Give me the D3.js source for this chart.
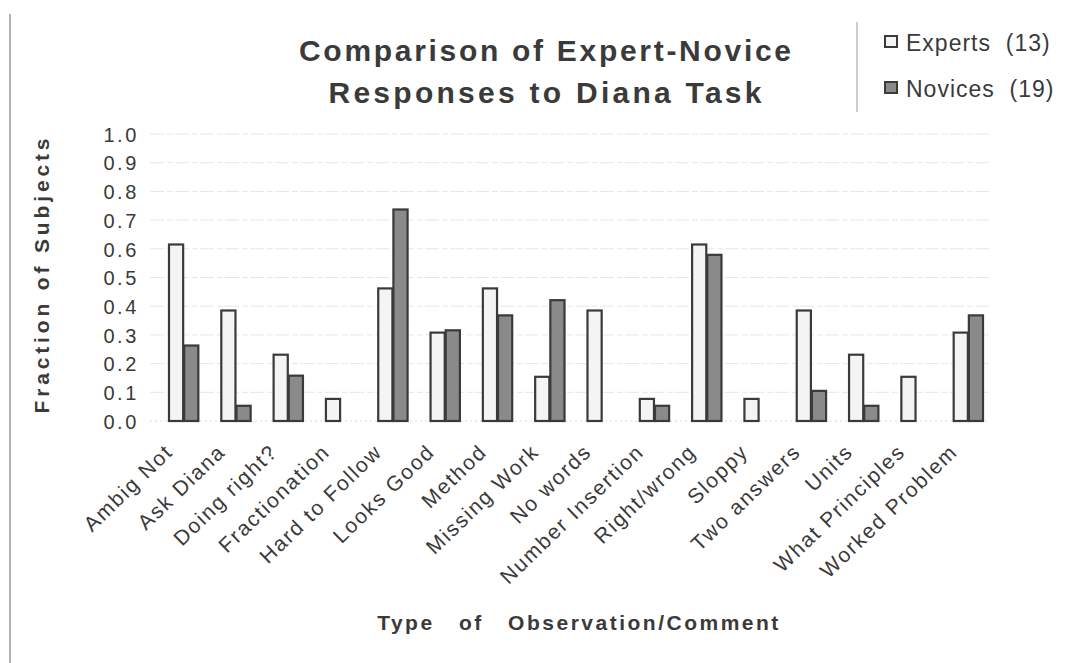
<!DOCTYPE html>
<html>
<head>
<meta charset="utf-8">
<script src="https://cdn.jsdelivr.net/npm/d3@7"></script>
<style>
  html, body { margin: 0; padding: 0; background: #fff; }
  svg { display: block; font-family: "Liberation Sans", Arial, Helvetica, sans-serif; }
</style>
</head>
<body>
<svg id="chart" width="1071" height="663"></svg>
<script>
const categories = ["Ambig Not", "Ask Diana", "Doing right?", "Fractionation", "Hard to Follow",
  "Looks Good", "Method", "Missing Work", "No words", "Number Insertion", "Right/wrong",
  "Sloppy", "Two answers", "Units", "What Principles", "Worked Problem"];
const experts = [0.615, 0.385, 0.231, 0.077, 0.462, 0.308, 0.462, 0.154, 0.385, 0.077, 0.615, 0.077, 0.385, 0.231, 0.154, 0.308];
const novices = [0.263, 0.053, 0.158, 0, 0.737, 0.316, 0.368, 0.421, 0, 0.053, 0.579, 0, 0.105, 0.053, 0, 0.368];
const seriesNames = ["Experts  (13)", "Novices  (19)"];
const yTicks = [0, 0.1, 0.2, 0.3, 0.4, 0.5, 0.6, 0.7, 0.8, 0.9, 1.0];
const titleLines = ["Comparison of Expert-Novice", "Responses to Diana Task"];
const yTitle = "Fraction of Subjects";
const xTitle = "Type of Observation/Comment";

const svg = d3.select("#chart");
const textColor = "#3a3a3a";
const fills = ["#f4f4f4", "#8a8a8a"];
const stroke = "#3a3a3a";

const x = d3.scaleBand().domain(categories).range([157, 994]).paddingInner(0.42).paddingOuter(0.21);
const xs = d3.scaleBand().domain([0, 1]).range([0, x.bandwidth()]);
const y = d3.scaleLinear().domain([0, 1]).range([421, 134]);

// left frame line
svg.append("line").attr("x1", 10).attr("x2", 10).attr("y1", 14).attr("y2", 663)
  .attr("stroke", "#b0b0b0").attr("stroke-width", 2);

// gridlines
svg.append("g").selectAll("line").data(yTicks.slice(1)).join("line")
  .attr("x1", 150).attr("x2", 990)
  .attr("y1", d => y(d)).attr("y2", d => y(d))
  .attr("stroke", "#e6e6e6").attr("stroke-width", 1).attr("stroke-dasharray", "14,3,6,2");
svg.append("line").attr("x1", 150).attr("x2", 990).attr("y1", y(0)).attr("y2", y(0))
  .attr("stroke", "#dcdcdc").attr("stroke-dasharray", "2,3");

// y axis labels
const yAxis = d3.axisLeft(y).tickValues(yTicks).tickFormat(d3.format(".1f")).tickSize(0).tickPadding(0);
const yg = svg.append("g").attr("transform", "translate(139,0)").call(yAxis);
yg.select(".domain").remove();
yg.selectAll("text").attr("fill", textColor).style("font-size", "20px").style("letter-spacing", "2.6px")
  .attr("dy", "0.36em");

// bars
const groups = svg.append("g").selectAll("g").data(categories).join("g")
  .attr("transform", d => `translate(${x(d)},0)`);
groups.selectAll("rect").data((d, i) => [experts[i], novices[i]].map((v, s) => ({ v, s })))
  .join("rect")
  .filter(d => d.v > 0)
  .attr("x", d => xs(d.s) + 1)
  .attr("width", xs.bandwidth() - 1)
  .attr("y", d => y(d.v))
  .attr("height", d => y(0) - y(d.v))
  .attr("fill", d => fills[d.s])
  .attr("stroke", stroke).attr("stroke-width", 2.2);

// x labels
const xAxis = d3.axisBottom(x).tickSize(0).tickPadding(0);
const xg = svg.append("g").attr("transform", "translate(0,440)").call(xAxis);
xg.select(".domain").remove();
xg.selectAll("text")
  .attr("fill", textColor)
  .style("font-size", "21px").style("letter-spacing", "1.8px")
  .attr("text-anchor", "end")
  .attr("dy", "0.35em")
  .attr("transform", "translate(-14,8) rotate(-44)");

// title
svg.append("g").selectAll("text").data(titleLines).join("text")
  .attr("x", 545).attr("y", (d, i) => 61 + i * 42)
  .attr("text-anchor", "middle")
  .attr("fill", textColor).style("font-size", "30px").style("font-weight", "bold")
  .attr("textLength", (d, i) => [492, 433][i]).attr("lengthAdjust", "spacing")
  .text(d => d);

// y title
svg.append("text")
  .attr("transform", "translate(49,276) rotate(-90)")
  .attr("text-anchor", "middle").attr("fill", textColor)
  .style("font-size", "21px").style("font-weight", "bold")
  .attr("textLength", 275).attr("lengthAdjust", "spacing")
  .text(yTitle);

// x title
svg.append("text")
  .attr("x", 579).attr("y", 630).attr("text-anchor", "middle").attr("fill", textColor)
  .style("font-size", "21px").style("font-weight", "bold")
  .style("letter-spacing", "2.5px").style("word-spacing", "16px")
  .text(xTitle);

// legend
svg.append("line").attr("x1", 857).attr("x2", 857).attr("y1", 22).attr("y2", 112)
  .attr("stroke", "#bbbbbb").attr("stroke-width", 1.5);
const lg = svg.append("g").selectAll("g").data(seriesNames).join("g")
  .attr("transform", (d, i) => `translate(885,${42 + i * 46})`);
lg.append("rect").attr("x", 0).attr("y", -6).attr("width", 12).attr("height", 11)
  .attr("fill", (d, i) => fills[i]).attr("stroke", stroke).attr("stroke-width", 2);
lg.append("text").attr("x", 21).attr("y", 9).attr("fill", textColor)
  .style("font-size", "23px").style("letter-spacing", "1px").style("white-space", "pre")
  .text(d => d);
</script>
</body>
</html>
